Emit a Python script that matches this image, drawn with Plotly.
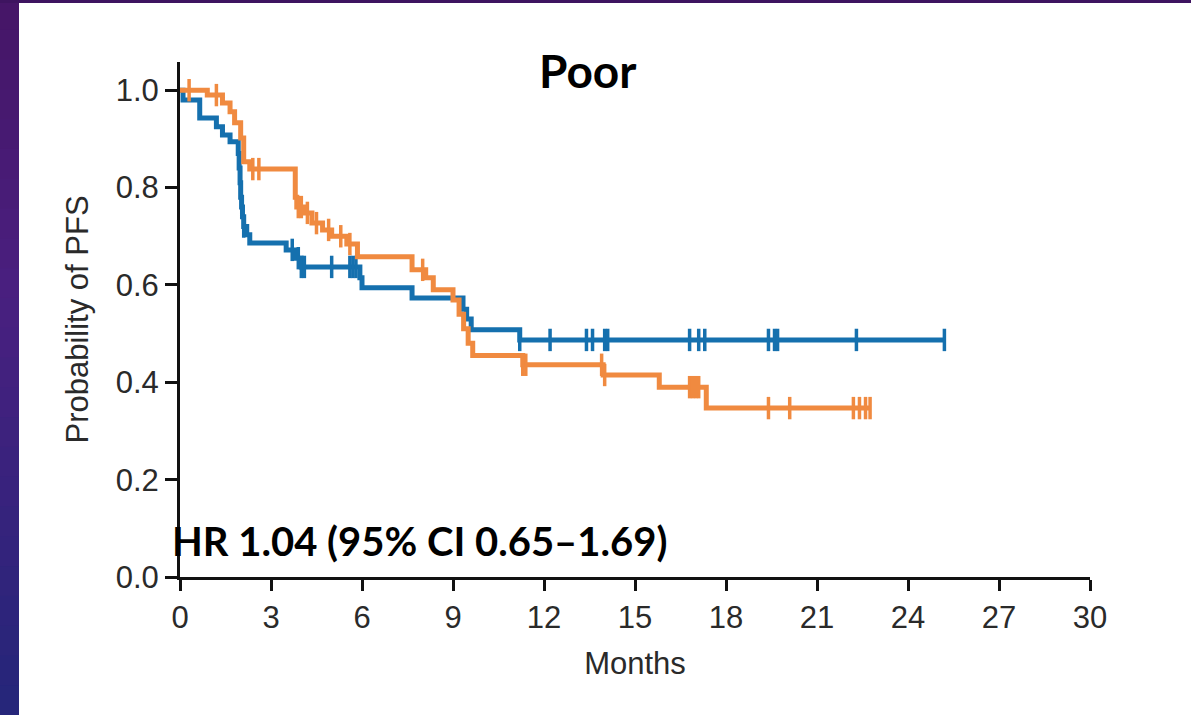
import plotly.graph_objects as go

# ---------------- data ----------------
blue_t = [0, 0.1, 0.65, 1.2, 1.4, 1.65, 1.92, 1.95, 1.98, 2.0, 2.03, 2.06, 2.1, 2.2, 2.3,
          3.5, 3.8, 4.0, 5.93, 6.0, 7.65, 9.33, 9.45, 9.6, 11.2, 25.2]
blue_s = [1.0, 0.98, 0.943, 0.925, 0.908, 0.894, 0.87, 0.84, 0.81, 0.78, 0.76, 0.74, 0.72, 0.703, 0.686,
          0.672, 0.655, 0.637, 0.615, 0.594, 0.573, 0.55, 0.53, 0.508, 0.487, 0.487]
blue_cens = [2.1, 3.7, 3.9, 4.0, 4.1, 5.0, 5.6, 5.7, 5.8, 11.2, 12.2, 13.4, 13.6, 14.0, 14.1,
             16.8, 17.1, 17.3, 19.4, 19.6, 19.7, 22.3, 25.2]

orange_t = [0, 0.9, 1.4, 1.65, 1.8, 2.0, 2.1, 2.3, 3.8, 3.85, 4.1, 4.35, 4.7, 5.0, 5.5, 5.85,
            7.65, 8.1, 8.35, 9.0, 9.2, 9.35, 9.5, 9.65, 11.3, 13.95, 15.8, 17.35, 22.75]
orange_s = [1.0, 0.99, 0.974, 0.956, 0.933, 0.902, 0.853, 0.838, 0.78, 0.76, 0.748, 0.727, 0.713, 0.70, 0.684, 0.658,
            0.631, 0.615, 0.59, 0.569, 0.54, 0.51, 0.48, 0.455, 0.436, 0.415, 0.39, 0.347, 0.347]
orange_cens = [0.3, 1.2, 2.4, 2.6, 3.9, 4.0, 4.2, 4.5, 4.9, 5.3, 5.6, 8.0, 11.3, 11.4, 13.9, 14.0,
               16.8, 16.9, 17.0, 17.1, 19.4, 20.1, 22.2, 22.4, 22.6, 22.75]

x_ticks = [0, 3, 6, 9, 12, 15, 18, 21, 24, 27, 30]
y_ticks = [0.0, 0.2, 0.4, 0.6, 0.8, 1.0]
y_tick_labels = ["0.0", "0.2", "0.4", "0.6", "0.8", "1.0"]

title_text = "Poor"
hr_text = "HR 1.04 (95% CI 0.65–1.69)"
x_title = "Months"
y_title = "Probability of PFS"

BLUE = "#1570ae"
ORANGE = "#f08a40"


def surv_at(ts, ss, t):
    v = ss[0]
    for ti, si in zip(ts, ss):
        if ti <= t:
            v = si
    return v


W, H = 1191, 715
L, R, T, B = 180, 101, 62, 138
PW, PH = W - L - R, H - T - B


def px(x):
    return (x - L) / PW


def py(y):
    return (H - B - y) / PH


fig = go.Figure()

for ts, ss, cens, col in [(blue_t, blue_s, blue_cens, BLUE), (orange_t, orange_s, orange_cens, ORANGE)]:
    fig.add_trace(go.Scatter(x=ts, y=ss, mode="lines", line=dict(color=col, width=5, shape="hv"),
                             showlegend=False, hoverinfo="skip", cliponaxis=False))
    fig.add_trace(go.Scatter(x=cens, y=[surv_at(ts, ss, c) for c in cens], mode="markers",
                             marker=dict(symbol="line-ns", size=16, line=dict(color=col, width=3.5)),
                             showlegend=False, hoverinfo="skip", cliponaxis=False))

# background decoration: purple frame with gradient (left strip and top strip)
shapes = []
n = 24
top_c = (70, 22, 104)
mid_c = (74, 32, 128)
bot_c = (38, 38, 122)
for i in range(n):
    f = i / (n - 1)
    if f < 0.4:
        g = f / 0.4
        c = tuple(int(top_c[k] + (mid_c[k] - top_c[k]) * g) for k in range(3))
    else:
        g = (f - 0.4) / 0.6
        c = tuple(int(mid_c[k] + (bot_c[k] - mid_c[k]) * g) for k in range(3))
    y0 = H * i / n
    y1 = H * (i + 1) / n + 1
    shapes.append(dict(type="rect", xref="paper", yref="paper", x0=px(0), x1=px(19),
                       y0=py(y1), y1=py(y0), fillcolor="rgb(%d,%d,%d)" % c, line=dict(width=0), layer="below"))
shapes.append(dict(type="rect", xref="paper", yref="paper", x0=px(0), x1=px(W),
                   y0=py(3), y1=py(0), fillcolor="rgb(62,20,96)", line=dict(width=0), layer="below"))
fig.update_layout(shapes=shapes)

fig.add_annotation(text="<b>%s</b>" % title_text, xref="paper", yref="paper", x=px(587), y=py(70),
                   showarrow=False, font=dict(family="Lato", size=46, color="#000"),
                   xanchor="center", yanchor="middle")
fig.add_annotation(text="<b>%s</b>" % hr_text, xref="paper", yref="paper", x=px(170), y=py(541),
                   showarrow=False, font=dict(family="Lato", size=40, color="#000"),
                   xanchor="left", yanchor="middle")

axis_font = dict(family="Liberation Sans", size=31, color="#2a2a2a")
fig.update_xaxes(range=[0, 30], tickvals=x_ticks, ticktext=[str(v) for v in x_ticks],
                 showline=True, linecolor="#111", linewidth=3, ticks="outside", ticklen=11,
                 tickwidth=3, tickcolor="#111", showgrid=False, zeroline=False,
                 tickfont=axis_font, title=dict(text=x_title, font=axis_font, standoff=19))
fig.update_yaxes(range=[0, 1.058], tickvals=y_ticks, ticktext=y_tick_labels,
                 showline=True, linecolor="#111", linewidth=3, ticks="outside", ticklen=12,
                 tickwidth=3, tickcolor="#111", showgrid=False, zeroline=False,
                 tickfont=axis_font, title=dict(text=y_title, font=axis_font, standoff=18))

fig.update_layout(width=W, height=H, margin=dict(l=L, r=R, t=T, b=B, autoexpand=False),
                  paper_bgcolor="white", plot_bgcolor="white")

fig.write_html("out.html", config={"displayModeBar": False, "staticPlot": True},
               post_script="document.body.style.margin='0';document.body.style.overflow='hidden';")
